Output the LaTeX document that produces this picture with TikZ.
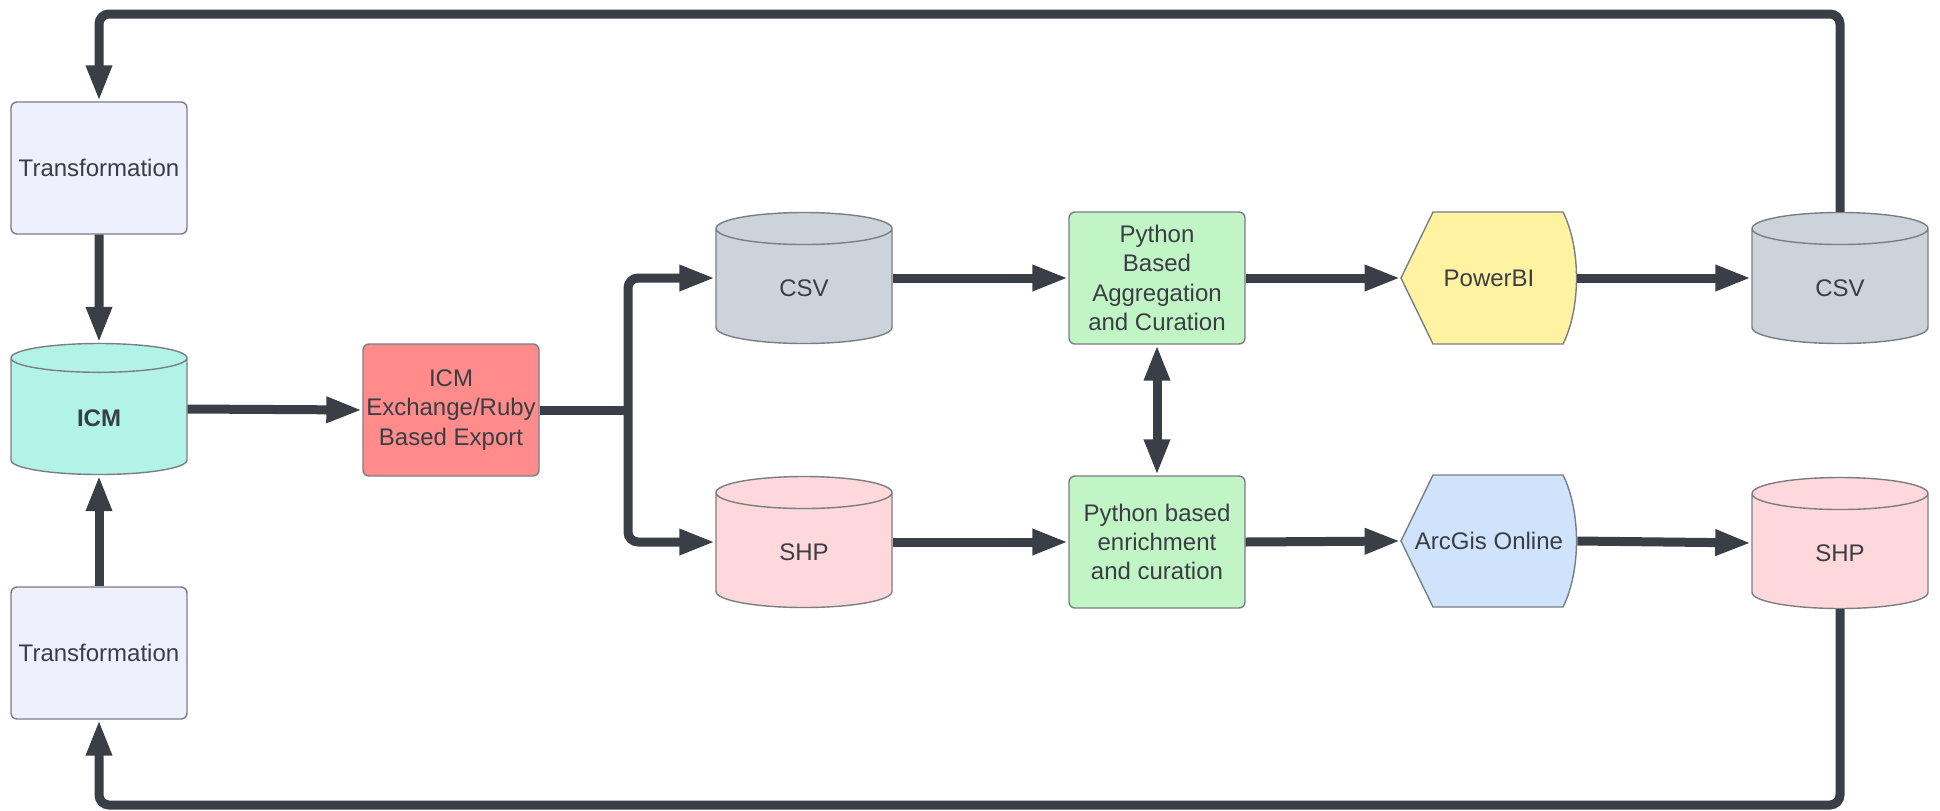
\documentclass[tikz,border=0pt]{standalone}
\usepackage{fontspec}
\setmainfont{Liberation Sans}
\usetikzlibrary{arrows.meta,shapes.geometric}
\definecolor{linegray}{HTML}{3A3F47}
\definecolor{edgegray}{HTML}{7B7D84}
\definecolor{textgray}{HTML}{3A3E44}
\definecolor{transfill}{HTML}{EEF0FD}
\definecolor{icmfill}{HTML}{B2F3E8}
\definecolor{exportfill}{HTML}{FF8B8B}
\definecolor{csvfill}{HTML}{CDD3DB}
\definecolor{shpfill}{HTML}{FFD8DC}
\definecolor{pyfill}{HTML}{C2F5C6}
\definecolor{pbifill}{HTML}{FFF3A1}
\definecolor{arcfill}{HTML}{CFE3FD}
\tikzset{
  lbl/.style={text=textgray, font=\fontsize{12}{14.6}\selectfont, align=center},
  box/.style={lbl, draw=edgegray, line width=0.7pt, rounded corners=3pt,
    minimum width=88pt, minimum height=66pt, inner sep=1pt},
  store/.style={lbl, cylinder, shape border rotate=90, aspect=0.6, draw=edgegray,
    line width=0.7pt, minimum width=88pt, minimum height=65.5pt, inner sep=1pt,
    anchor=shape center},
  dispnode/.style={lbl, minimum width=88pt, minimum height=66pt, inner sep=1pt},
  link/.style={draw=linegray, line width=4.5pt},
  flow/.style={link, -{Triangle[length=18pt,width=12pt]}},
  both/.style={link, {Triangle[length=18pt,width=12pt]}-{Triangle[length=18pt,width=12pt]}},
}
% display shape: pointed left end, bulging right end
\newcommand{\displaybox}[5]{
  \begin{scope}[shift={(#2,#3)}]
    \filldraw[fill=#4, draw=edgegray, line width=0.7pt]
      (-88,0) -- (-56,-66) -- (74,-66) .. controls (92,-30) and (92,30) .. (74,66)
      -- (-56,66) -- cycle;
  \end{scope}
  \node[dispnode] (#1) at (#2,#3) {#5};
}

\begin{document}
\begin{tikzpicture}[x=0.5pt,y=-0.5pt]
  \useasboundingbox (0,0) rectangle (1940,810);

  % left column
  \node[box, fill=transfill] (trTop) at (99,168) {Transformation};
  \node[store, fill=icmfill, font=\fontsize{12}{14.6}\selectfont\bfseries] (icm) at (99,409) {ICM};
  \node[box, fill=transfill] (trBot) at (99,653) {Transformation};

  % export and storage
  \node[box, fill=exportfill] (export) at (451,410) {ICM\\Exchange/Ruby\\Based Export};
  \node[store, fill=csvfill] (csvA) at (804,278) {CSV};
  \node[store, fill=shpfill] (shpA) at (804,542) {SHP};

  % processing
  \node[box, fill=pyfill] (pyAgg) at (1157,278) {Python\\Based\\Aggregation\\and Curation};
  \node[box, fill=pyfill] (pyEnr) at (1157,542) {Python based\\enrichment\\and curation};

  % outputs
  \displaybox{pbi}{1489}{278}{pbifill}{PowerBI}
  \displaybox{arc}{1489}{541}{arcfill}{ArcGis Online}
  \node[store, fill=csvfill] (csvB) at (1840,278) {CSV};
  \node[store, fill=shpfill] (shpB) at (1840,543) {SHP};

  \coordinate (split) at (628,410);
  \coordinate (topL) at (99,14);
  \coordinate (topR) at (1840,14);
  \coordinate (botL) at (99,805);
  \coordinate (botR) at (1840,805);

  % connectors
  \draw[flow] (trTop) -- (icm.north);
  \draw[flow] (trBot) -- (icm.south);
  \draw[flow] (icm.east |- icm.shape center) -- (export.west);
  \draw[link] (export.east) -- (split);
  \draw[flow, rounded corners=5pt] (split) |- (csvA.west |- csvA.shape center);
  \draw[flow, rounded corners=5pt] (split) |- (shpA.west |- shpA.shape center);
  \draw[flow] (csvA.east |- csvA.shape center) -- (pyAgg.west);
  \draw[flow] (shpA.east |- shpA.shape center) -- (pyEnr.west);
  \draw[both] (pyAgg) -- (pyEnr);
  \draw[flow] (pyAgg.east) -- (pbi.west);
  \draw[flow] (pyEnr.east) -- (arc.west);
  \draw[flow] (pbi.east) -- (csvB.west |- csvB.shape center);
  \draw[flow] (arc.east) -- (shpB.west |- shpB.shape center);
  \draw[flow, rounded corners=5pt] (csvB.north) -- (topR) -- (topL) -- (trTop.north);
  \draw[flow, rounded corners=5pt] (shpB.south) -- (botR) -- (botL) -- (trBot.south);
\end{tikzpicture}
\end{document}
